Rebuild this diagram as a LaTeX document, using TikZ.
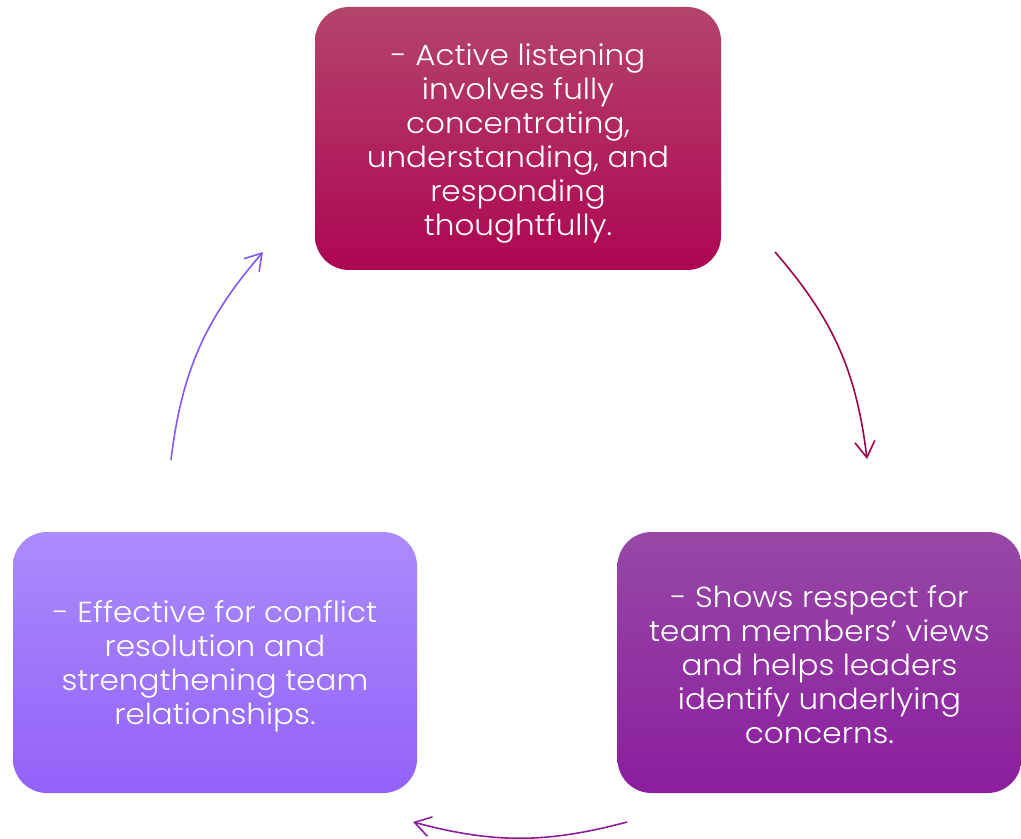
\documentclass[tikz,border=0pt]{standalone}
\usepackage{fontspec}
\setmainfont{Poppins}[UprightFont=* Light, FakeStretch=1.07]
\usepackage{tikz}
\usetikzlibrary{arrows.meta,calc}
\definecolor{roseTop}{HTML}{B4446C}
\definecolor{roseBot}{HTML}{AD0652}
\definecolor{plumTop}{HTML}{9748A6}
\definecolor{plumBot}{HTML}{8B1E9E}
\definecolor{lilacTop}{HTML}{AA8BFA}
\definecolor{lilacBot}{HTML}{9262F8}
\tikzstyle{card} = [rectangle, rounded corners=17pt, minimum width=202pt, minimum height=130.5pt]
\tikzstyle{cardtext} = [text centered, align=center, text=white, font=\fontsize{14.5}{17}\selectfont]
\tikzstyle{arrow} = [line width=0.8pt, -{Straight Barb[length=8pt,width=10pt]}]

\begin{document}
\begin{tikzpicture}[x=0.5pt, y=-0.5pt]

    \useasboundingbox (0,0) rectangle (1021,839);

    \node (listening) [card, top color=roseTop, bottom color=roseBot, minimum width=203pt, minimum height=131.5pt] at (518,138.5) {};
    \node (listening text) [cardtext] at ([yshift=-2.5pt]listening.center) {- Active listening\\involves fully\\concentrating,\\understanding, and\\responding\\thoughtfully.};

    \node (respect) [card, top color=plumTop, bottom color=plumBot] at (819.5,662.5) {};
    \node (respect text) [cardtext] at ([yshift=-1pt]respect.center) {- Shows respect for\\team members’ views\\and helps leaders\\identify underlying\\concerns.};

    \node (conflict) [card, top color=lilacTop, bottom color=lilacBot] at (215,662.5) {};
    \node (conflict text) [cardtext] at ([yshift=-2pt]conflict.center) {- Effective for conflict\\resolution and\\strengthening team\\relationships.};

    \coordinate (r1) at (775,252);
    \coordinate (r2) at (867,459);
    \coordinate (b1) at (627,822);
    \coordinate (b2) at (413,822);
    \coordinate (l1) at (171,460);
    \coordinate (l2) at (263,252);

      \draw[arrow, color=roseBot!90!black] (r1) to[bend left=17] (r2);

      \draw[arrow, color=plumBot] (b1) to[bend left=15] (b2);

      \draw[arrow, color=lilacBot!90!blue] (l1) to[bend left=17] (l2);

\end{tikzpicture}
\end{document}
